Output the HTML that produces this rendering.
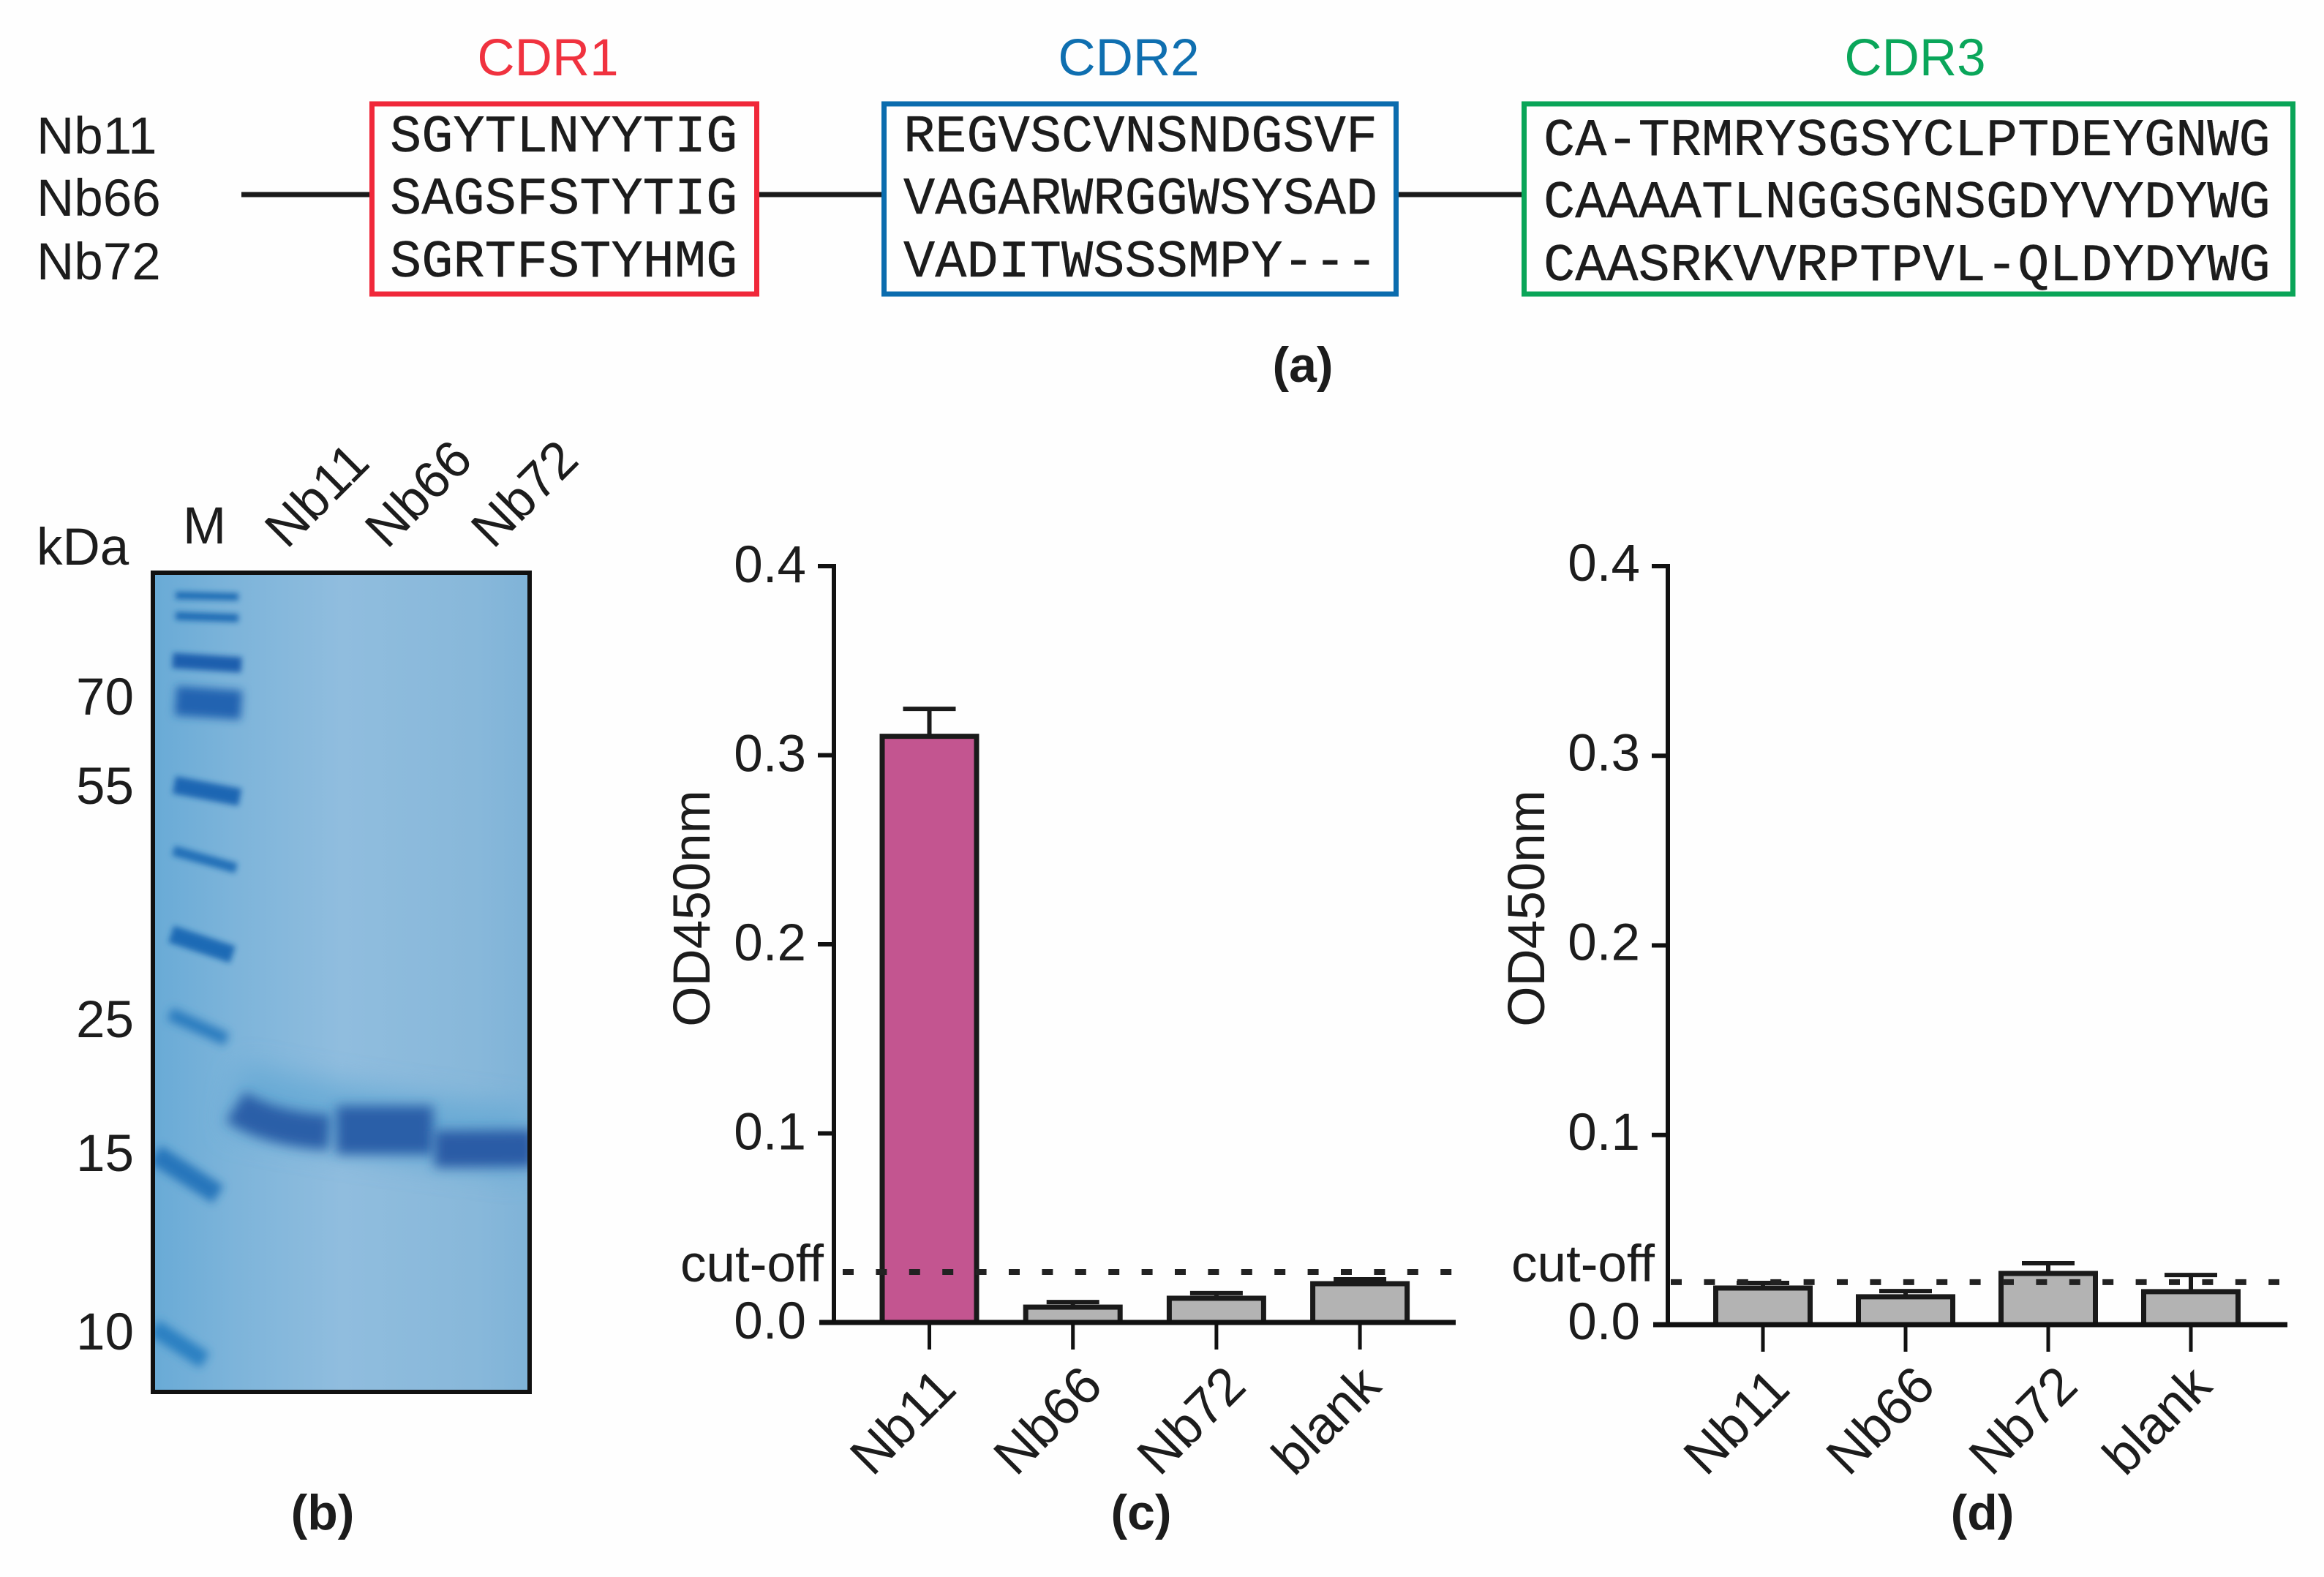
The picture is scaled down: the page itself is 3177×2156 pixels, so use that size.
<!DOCTYPE html>
<html>
<head>
<meta charset="utf-8">
<title>Nanobody figure</title>
<style>
html,body{margin:0;padding:0;background:#fefefe;}
svg{display:block;}
text{font-family:"Liberation Sans",sans-serif;fill:#1c1c1c;font-size:71px;}
.seq{font-family:"Liberation Mono",monospace;font-size:72px;stroke:#1c1c1c;stroke-width:0.4;}
.plabel{font-weight:bold;text-anchor:middle;font-size:68px;}
.gl{text-anchor:end;}
</style>
</head>
<body>
<svg id="fig" xmlns="http://www.w3.org/2000/svg" width="3177" height="2156" viewBox="0 0 3177 2156">
<defs>
  <linearGradient id="gelbg" x1="0" x2="1" y1="0" y2="0">
    <stop offset="0" stop-color="#68aad6"/>
    <stop offset="0.22" stop-color="#7db4da"/>
    <stop offset="0.5" stop-color="#90bdde"/>
    <stop offset="0.85" stop-color="#88b8da"/>
    <stop offset="1" stop-color="#7fb3d8"/>
  </linearGradient>
  <filter id="b3" filterUnits="userSpaceOnUse" x="0" y="0" width="1000" height="2156"><feGaussianBlur stdDeviation="4"/></filter>
  <filter id="b5" filterUnits="userSpaceOnUse" x="0" y="0" width="1000" height="2156"><feGaussianBlur stdDeviation="6"/></filter>
  <filter id="b7" filterUnits="userSpaceOnUse" x="0" y="0" width="1000" height="2156"><feGaussianBlur stdDeviation="8"/></filter>
  <filter id="b20" filterUnits="userSpaceOnUse" x="0" y="0" width="1000" height="2156"><feGaussianBlur stdDeviation="20"/></filter>
  <clipPath id="gelclip"><rect x="209" y="783" width="515" height="1120"/></clipPath>
</defs>
<rect x="0" y="0" width="3177" height="2156" fill="#fefefe"/>

<!-- panel a -->
<g>
  <line x1="330" x2="507" y1="266" y2="266" stroke="#1a1a1a" stroke-width="7"/>
  <line x1="1036" x2="1206" y1="266" y2="266" stroke="#1a1a1a" stroke-width="7"/>
  <line x1="1912" x2="2082" y1="266" y2="266" stroke="#1a1a1a" stroke-width="7"/>
  <text x="50" y="210">Nb11</text>
  <text x="50" y="295">Nb66</text>
  <text x="50" y="382">Nb72</text>

  <text x="749" y="103" text-anchor="middle" style="fill:#f0323f;font-size:71px">CDR1</text>
  <text x="1543" y="103" text-anchor="middle" style="fill:#0f6fb0;font-size:71px">CDR2</text>
  <text x="2618" y="103" text-anchor="middle" style="fill:#0aa65a;font-size:71px">CDR3</text>

  <rect x="508.5" y="142" width="526" height="260" fill="none" stroke="#f0283a" stroke-width="7"/>
  <rect x="1208.5" y="142" width="700" height="260" fill="none" stroke="#0b6cae" stroke-width="7"/>
  <rect x="2083.5" y="142" width="1051" height="260" fill="none" stroke="#0aa558" stroke-width="7"/>

  <text class="seq" x="533" y="207">SGYTLNYYTIG</text>
  <text class="seq" x="533" y="292">SAGSFSTYTIG</text>
  <text class="seq" x="533" y="378">SGRTFSTYHMG</text>
  <text class="seq" x="1235" y="207">REGVSCVNSNDGSVF</text>
  <text class="seq" x="1235" y="292">VAGARWRGGWSYSAD</text>
  <text class="seq" x="1235" y="378">VADITWSSSMPY---</text>
  <text class="seq" x="2110" y="212">CA-TRMRYSGSYCLPTDEYGNWG</text>
  <text class="seq" x="2110" y="297">CAAAATLNGGSGNSGDYVYDYWG</text>
  <text class="seq" x="2110" y="383">CAASRKVVRPTPVL-QLDYDYWG</text>
  <text class="plabel" x="1781" y="522">(a)</text>
</g>

<!-- panel b -->
<g>
  <rect x="206" y="780" width="521" height="1126" fill="url(#gelbg)"/>
  <g clip-path="url(#gelclip)">
    <path d="M320 1500 Q450 1530 724 1562" stroke="#5da5d3" stroke-width="90" fill="none" opacity="0.7" filter="url(#b20)"/>
    <path d="M240 814 L326 816" stroke="#1c6ab4" stroke-width="10" fill="none" filter="url(#b3)"/>
    <path d="M240 842 L326 845" stroke="#1c6ab4" stroke-width="11" fill="none" filter="url(#b3)"/>
    <path d="M236 903 L330 909" stroke="#1f5fae" stroke-width="21" fill="none" filter="url(#b3)"/>
    <path d="M240 958 L330 964" stroke="#2264b1" stroke-width="40" fill="none" filter="url(#b5)"/>
    <path d="M238 1073 L328 1090" stroke="#1f66b3" stroke-width="24" fill="none" filter="url(#b3)"/>
    <path d="M237 1163 L323 1187" stroke="#2270b8" stroke-width="14" fill="none" filter="url(#b3)"/>
    <path d="M234 1277 L318 1305" stroke="#1f6ab5" stroke-width="24" fill="none" filter="url(#b3)"/>
    <path d="M232 1386 L310 1421" stroke="#2a7cbf" stroke-width="18" fill="none" filter="url(#b5)"/>
    <path d="M212 1578 L298 1633" stroke="#2676bb" stroke-width="28" fill="none" filter="url(#b5)"/>
    <path d="M210 1815 L280 1860" stroke="#2a80c2" stroke-width="24" fill="none" filter="url(#b5)"/>
    <path d="M322 1513 Q370 1544 450 1548" stroke="#2a5ea8" stroke-width="48" fill="none" filter="url(#b7)"/>
    <path d="M460 1545 L592 1545" stroke="#2a5ea8" stroke-width="66" fill="none" filter="url(#b7)"/>
    <path d="M594 1571 L730 1570" stroke="#2a5ba6" stroke-width="50" fill="none" filter="url(#b7)"/>
  </g>
  <rect x="209" y="783" width="515" height="1120" fill="none" stroke="#111" stroke-width="6"/>
  <text x="50" y="772">kDa</text>
  <text x="250" y="743">M</text>
  <text transform="translate(392,752) rotate(-45)" style="font-size:71px">Nb11</text>
  <text transform="translate(529,752) rotate(-45)" style="font-size:71px">Nb66</text>
  <text transform="translate(674,752) rotate(-45)" style="font-size:71px">Nb72</text>
  <text class="gl" x="183" y="977">70</text>
  <text class="gl" x="183" y="1099">55</text>
  <text class="gl" x="183" y="1418">25</text>
  <text class="gl" x="183" y="1601">15</text>
  <text class="gl" x="183" y="1845">10</text>
  <text class="plabel" x="441" y="2091">(b)</text>
</g>
<text class="plabel" x="1560" y="2091">(c)</text>
<text class="plabel" x="2710" y="2091">(d)</text>
<g id="chart-c"></g>
<g id="chart-d"></g>
</svg>
<script>
const categories = ['Nb11', 'Nb66', 'Nb72', 'blank'];
const tickLabels = ['0.0', '0.1', '0.2', '0.3', '0.4'];
const tickValues = [0, 0.1, 0.2, 0.3, 0.4];
const valuesC = [0.31, 0.0081, 0.0128, 0.0205];
const errorsC = [0.0145, 0.0027, 0.0027, 0.0023];
const cutoffC = 0.0267;
const valuesD = [0.0193, 0.0147, 0.027, 0.0174];
const errorsD = [0.0027, 0.003, 0.0054, 0.0088];
const cutoffD = 0.0224;
const highlightC = [true, false, false, false];
const highlightD = [false, false, false, false];

const NS = 'http://www.w3.org/2000/svg';
function make(parent, tag, attrs, txt) {
  const el = document.createElementNS(NS, tag);
  for (const k in attrs) el.setAttribute(k, attrs[k]);
  if (txt !== undefined) el.textContent = txt;
  parent.appendChild(el);
  return el;
}
function drawChart(host, cfg, values, errors, cutoff, highlight) {
  const y = v => cfg.y0 - v * (cfg.y0 - cfg.yTop) / 0.4;
  const x = i => cfg.x0 + i * cfg.step;
  const barW = 129, capW = 72, ink = '#1a1a1a';

  categories.forEach((cat, i) => {
    const top = y(values[i]);
    const errTop = y(values[i] + errors[i]);
    const stem = make(host, 'line', {x1: x(i), x2: x(i), y1: top, y2: errTop, stroke: ink, 'stroke-width': 6});
    
    
    const cap = make(host, 'line', {x1: x(i) - capW / 2, x2: x(i) + capW / 2, y1: errTop, y2: errTop, stroke: ink, 'stroke-width': 6});
    
    
    const bar = make(host, 'rect', {x: x(i) - barW / 2, y: top, width: barW, height: cfg.y0 - top, fill: highlight[i] ? '#c35590' : '#b3b3b3', stroke: ink, 'stroke-width': 7});
    
    
  });

  const cut = make(host, 'line', {x1: cfg.cutX1, x2: cfg.cutX2, y1: y(cutoff), y2: y(cutoff), stroke: '#222', 'stroke-width': 8, 'stroke-dasharray': '15 30.4'});
  
  

  const yAxis = make(host, 'line', {x1: cfg.axisX, x2: cfg.axisX, y1: y(0.4) - 3, y2: y(0), stroke: '#111', 'stroke-width': 6});
  
  
  const xAxis = make(host, 'line', {x1: cfg.axisX - 20, x2: cfg.axisEnd, y1: y(0), y2: y(0), stroke: '#111', 'stroke-width': 7});
  
  

  tickValues.forEach((v, i) => {
    if (v > 0) {
      const t = make(host, 'line', {x1: cfg.axisX - 22, x2: cfg.axisX, y1: y(v), y2: y(v), stroke: '#111', 'stroke-width': 6});
      
      
    }
    const lab = make(host, 'text', {x: cfg.axisX - 38, y: y(v) + cfg.tickDy, 'text-anchor': 'end'}, tickLabels[i]);
    
    
  });

  categories.forEach((cat, i) => {
    const t = make(host, 'line', {x1: x(i), x2: x(i), y1: y(0), y2: y(0) + 37, stroke: '#111', 'stroke-width': 5});
    
    
    const shift = cat === 'blank' ? 90 : 78;
    const lab = make(host, 'text', {transform: 'translate(' + (x(i) - shift) + ',2020) rotate(-45)', style: 'font-size:72px'}, cat);
    
    
  });

  const title = make(host, 'text', {transform: 'translate(' + cfg.titleX + ',1242) rotate(-90)', 'text-anchor': 'middle', style: 'font-size:71px'}, 'OD450nm');
  
  
  const cl = make(host, 'text', {x: cfg.cutLabelX, y: 1752, style: 'font-size:71px'}, 'cut-off');
  
  
}
drawChart(document.getElementById('chart-c'), {y0: 1808, yTop: 774, x0: 1270.5, step: 196.2, axisX: 1140, axisEnd: 1990, cutX1: 1152, cutX2: 1985, titleX: 970, cutLabelX: 930, tickDy: 22}, valuesC, errorsC, cutoffC, highlightC);
drawChart(document.getElementById('chart-d'), {y0: 1811, yTop: 774, x0: 2410, step: 195, axisX: 2280, axisEnd: 3127, cutX1: 2284, cutX2: 3116, titleX: 2111, cutLabelX: 2066, tickDy: 20}, valuesD, errorsD, cutoffD, highlightD);
</script>
</body>
</html>
